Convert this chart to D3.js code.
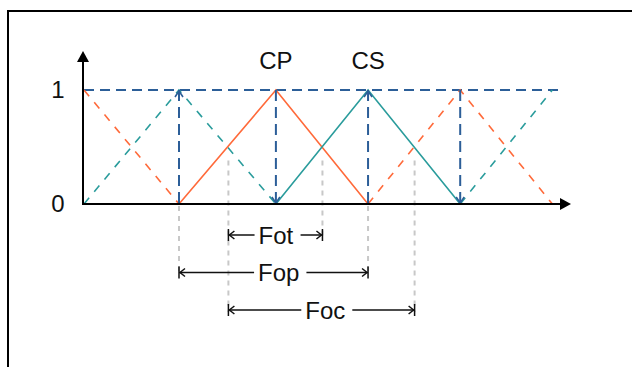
<!DOCTYPE html>
<html>
<head>
<meta charset="utf-8">
<script src="https://cdn.jsdelivr.net/npm/d3@7"></script>
<style>
  body { margin: 0; background: #fff; }
  text { font-family: "Liberation Sans", Arial, sans-serif; font-size: 24px; fill: #111; }
</style>
</head>
<body>
<div id="chart"></div>
<script>
// breakpoints along the axis (units)
var breaks = [0, 1, 2.02, 2.99, 3.96, 4.93];
var crossings = [1.52, 2.51, 3.48];
var yTicks = [0, 1];

// membership functions
var orangeSolid = [[1, 0], [2.02, 1], [2.99, 0]];
var tealSolid = [[2.02, 0], [2.99, 1], [3.96, 0]];
var orangeDashed = [[[0, 1], [1, 0]], [[2.99, 0], [3.96, 1], [4.93, 0]]];
var tealDashed = [[[0, 0], [1, 1], [2.02, 0]], [[3.96, 0], [4.93, 1]]];
var topLineEnd = 5;

// vertical markers: [x, arrow direction]
var verticals = [[1, 'up'], [2.02, 'down'], [2.99, 'up'], [3.96, 'down']];

var peakLabels = [{ name: 'CP', x: 2.02 }, { name: 'CS', x: 2.99 }];

// dimension rows
var dims = [
    { name: 'Fot', from: 1.52, to: 2.51, center: 2.02, row: 0 },
    { name: 'Fop', from: 1, to: 2.99, center: 2.05, row: 1 },
    { name: 'Foc', from: 1.52, to: 3.48, center: 2.54, row: 2 }
];

var svgwidth = 632;
var svgheight = 367;
var orange = '#ff6a3a';
var teal = '#2a9c9c';
var blue = '#2c5e98';

var svg = d3.select('#chart')
            .append('svg')
            .attr('width', svgwidth)
            .attr('height', svgheight);

var xscale = d3.scaleLinear().domain([0, 5]).range([84, 559]);
var yscale = d3.scaleLinear().domain([0, 1]).range([204, 90]);
var rowY = d3.scalePoint().domain([0, 1, 2]).range([235, 310]);

// frame (only top and left visible)
svg.append('path')
    .attr('d', 'M8,' + svgheight + 'V11H' + svgwidth)
    .attr('fill', 'none')
    .attr('stroke', '#000')
    .attr('stroke-width', 2);

var line = d3.line().x(d => xscale(d[0])).y(d => yscale(d[1]));

// grey guide lines
var guides = [
    { x: breaks[1], y0: 0, bottom: rowY(1) },
    { x: crossings[0], y0: 0.4, bottom: rowY(2) + 2 },
    { x: crossings[1], y0: 0.4, bottom: rowY(0) + 2 },
    { x: breaks[3], y0: 0, bottom: rowY(1) },
    { x: crossings[2], y0: 0.4, bottom: rowY(2) + 2 }
];
svg.append('g')
    .selectAll('line')
    .data(guides)
    .join('line')
    .attr('x1', d => xscale(d.x))
    .attr('x2', d => xscale(d.x))
    .attr('y1', d => yscale(d.y0) + 2)
    .attr('y2', d => d.bottom)
    .attr('stroke', '#c8c8c8')
    .attr('stroke-width', 2)
    .attr('stroke-dasharray', '5,5');

// top dashed line at 1
svg.append('line')
    .attr('x1', xscale(0))
    .attr('x2', xscale(topLineEnd))
    .attr('y1', yscale(1))
    .attr('y2', yscale(1))
    .attr('stroke', blue)
    .attr('stroke-width', 2)
    .attr('stroke-dasharray', '10,6');

// dashed neighbours
svg.append('g')
    .selectAll('path')
    .data(orangeDashed)
    .join('path')
    .attr('d', line)
    .attr('fill', 'none')
    .attr('stroke', orange)
    .attr('stroke-width', 1.6)
    .attr('stroke-dasharray', '8,8');
svg.append('g')
    .selectAll('path')
    .data(tealDashed)
    .join('path')
    .attr('d', line)
    .attr('fill', 'none')
    .attr('stroke', teal)
    .attr('stroke-width', 1.6)
    .attr('stroke-dasharray', '8,8');

// solid CP / CS
svg.append('path')
    .attr('d', line(orangeSolid))
    .attr('fill', 'none')
    .attr('stroke', orange)
    .attr('stroke-width', 1.6);
svg.append('path')
    .attr('d', line(tealSolid))
    .attr('fill', 'none')
    .attr('stroke', teal)
    .attr('stroke-width', 1.6);

// blue verticals with small arrow tips
var vg = svg.append('g');
vg.selectAll('line')
    .data(verticals)
    .join('line')
    .attr('x1', d => xscale(d[0]))
    .attr('x2', d => xscale(d[0]))
    .attr('y1', yscale(1))
    .attr('y2', yscale(0))
    .attr('stroke', blue)
    .attr('stroke-width', 2)
    .attr('stroke-dasharray', '11,6');
vg.selectAll('path')
    .data(verticals)
    .join('path')
    .attr('d', function(d) {
        var x = xscale(d[0]);
        if (d[1] == 'up') {
            var y = yscale(1) + 1;
            return 'M' + (x - 4) + ',' + (y + 6) + 'L' + x + ',' + y + 'L' + (x + 4) + ',' + (y + 6);
        }
        var y2 = yscale(0) - 1;
        return 'M' + (x - 4) + ',' + (y2 - 6) + 'L' + x + ',' + y2 + 'L' + (x + 4) + ',' + (y2 - 6);
    })
    .attr('fill', 'none')
    .attr('stroke', blue)
    .attr('stroke-width', 1.6);

// axes
svg.append('line')
    .attr('x1', 83).attr('x2', 83)
    .attr('y1', yscale(0)).attr('y2', 60)
    .attr('stroke', '#000').attr('stroke-width', 2);
svg.append('path')
    .attr('d', 'M83,51L89,62L77,62Z')
    .attr('fill', '#000');
svg.append('line')
    .attr('x1', 82).attr('x2', 562)
    .attr('y1', yscale(0)).attr('y2', yscale(0))
    .attr('stroke', '#000').attr('stroke-width', 2);
svg.append('path')
    .attr('d', 'M571,' + yscale(0) + 'L560,' + (yscale(0) - 6) + 'L560,' + (yscale(0) + 6) + 'Z')
    .attr('fill', '#000');

// y tick labels
svg.append('g')
    .selectAll('text')
    .data(yTicks)
    .join('text')
    .attr('x', 58)
    .attr('y', d => yscale(d) + 8)
    .style('text-anchor', 'middle')
    .text(d => d);

// peak labels
svg.append('g')
    .selectAll('text')
    .data(peakLabels)
    .join('text')
    .attr('x', d => xscale(d.x))
    .attr('y', 69)
    .style('text-anchor', 'middle')
    .text(d => d.name);

// dimension arrows
var dg = svg.append('g')
            .selectAll('g')
            .data(dims)
            .join('g')
            .attr('transform', d => 'translate(0,' + rowY(d.row) + ')');
dg.append('text')
    .attr('x', d => xscale(d.center))
    .attr('y', 8.5)
    .style('text-anchor', 'middle')
    .text(d => d.name);
dg.each(function(d) {
    var g = d3.select(this);
    var box = g.select('text').node().getBBox();
    var x1 = xscale(d.from), x2 = xscale(d.to);
    g.append('line').attr('x1', x1).attr('x2', box.x - 4).attr('y1', 0).attr('y2', 0);
    g.append('line').attr('x1', box.x + box.width + 7).attr('x2', x2).attr('y1', 0).attr('y2', 0);
    g.append('line').attr('x1', x1).attr('x2', x1).attr('y1', -6).attr('y2', 6);
    g.append('line').attr('x1', x2).attr('x2', x2).attr('y1', -6).attr('y2', 6);
    g.append('path').attr('d', 'M' + (x1 + 6) + ',-4L' + (x1 + 1) + ',0L' + (x1 + 6) + ',4').attr('fill', 'none');
    g.append('path').attr('d', 'M' + (x2 - 6) + ',-4L' + (x2 - 1) + ',0L' + (x2 - 6) + ',4').attr('fill', 'none');
    g.selectAll('line, path').attr('stroke', '#111').attr('stroke-width', 1.5);
});
</script>
</body>
</html>
